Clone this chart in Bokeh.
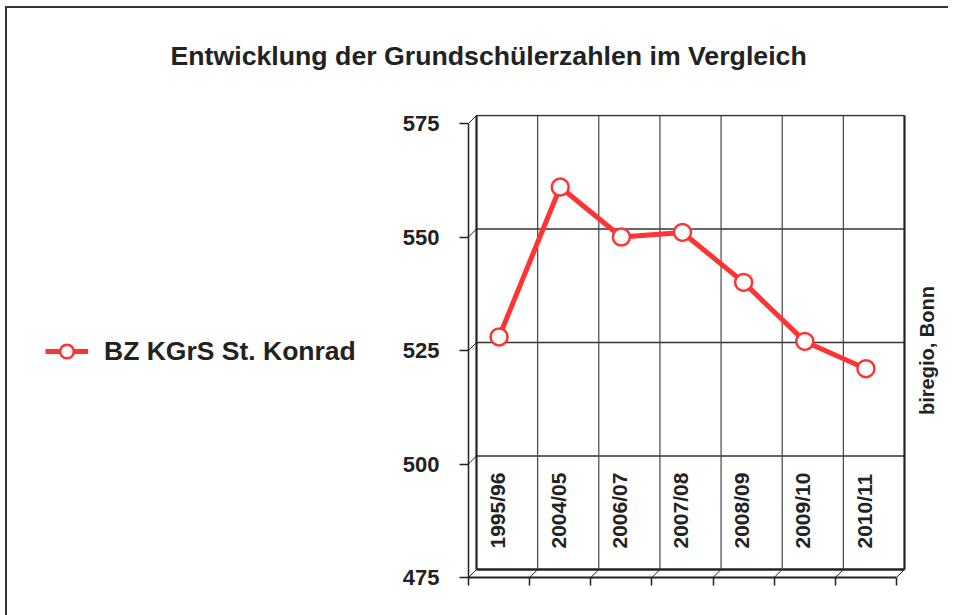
import math
from bokeh.plotting import figure
from bokeh.models import Range1d, FixedTicker, Legend, LegendItem
from bokeh.layouts import column, row
from bokeh.embed import file_html
from bokeh.resources import INLINE
from bokeh.core.properties import value

# ---------------- data ----------------
title_text = "Entwicklung der Grundschülerzahlen im Vergleich"
series_name = "BZ KGrS St. Konrad"
source_note = "biregio, Bonn"
categories = ["1995/96", "2004/05", "2006/07", "2007/08", "2008/09", "2009/10", "2010/11"]
pupils = [528, 561, 550, 551, 540, 527, 521]
y_ticks = [475, 500, 525, 550, 575]

# ---------------- layout constants ----------------
FONT = "Liberation Sans"
RED = "#FF3333"
DARK = "#222222"
BORDER = "2px solid #333333"
TPAD = 30               # space above the title
TH = 66                 # title strip height
GAP = TPAD + 2          # main plot offset below the title strip
LW = 393                # legend column width
LH = 543                # legend column height
PW = 550                # main plot width
RH = 503                # main plot height
FL, FT, FB = 70, 10, 30 # main plot borders
frame_w = PW - FL
frame_h = RH - FT - FB
n = len(categories)
ymin, ymax = y_ticks[0], y_ticks[-1]
DEPTH = 8               # px, pseudo-3D depth offset
cat_px = 428 / n        # px per category on the front plane
unit_px = 454 / (ymax - ymin)
dx = DEPTH / cat_px
dy = DEPTH / unit_px


def blank(fig):
    fig.outline_line_color = None
    fig.grid.visible = False
    fig.axis.visible = False
    fig.background_fill_color = "white"
    fig.border_fill_color = "white"


# ---------------- title strip ----------------
tf = figure(width=LW + PW, height=TH, x_range=Range1d(0, 1), y_range=Range1d(0, 1),
            output_backend="svg", toolbar_location=None,
            min_border_left=0, min_border_right=0, min_border_top=0, min_border_bottom=0)
blank(tf)
tf.styles = {"border-left": BORDER, "border-top": BORDER,
             "margin-left": "5px", "margin-top": "6px", "padding-top": f"{TPAD}px"}
tf.title.text = title_text
tf.title.align = "left"
tf.title.offset = 163
tf.title.text_font = FONT
tf.title.text_font_size = "26.7px"
tf.title.text_font_style = "bold"
tf.title.text_color = DARK
tf.title.standoff = 0

# ---------------- main plot ----------------
p = figure(width=PW, height=RH, title=None,
           x_range=Range1d(0, frame_w / cat_px),
           y_range=Range1d(ymin, ymin + frame_h / unit_px),
           output_backend="svg", toolbar_location=None,
           min_border_left=FL, min_border_right=0,
           min_border_top=FT, min_border_bottom=FB)
p.outline_line_color = None
p.grid.visible = False
p.background_fill_color = "white"
p.border_fill_color = "white"
p.styles = {"margin-top": f"{GAP}px"}

# y axis (front edge)
ya = p.yaxis[0]
ya.ticker = FixedTicker(ticks=y_ticks)
ya.bounds = (ymin, ymax)
ya.axis_line_color = DARK
ya.axis_line_width = 1.5
ya.major_tick_out = 9
ya.major_tick_in = 0
ya.minor_tick_out = 0
ya.minor_tick_in = 0
ya.major_tick_line_color = DARK
ya.major_tick_line_width = 1.5
ya.major_label_standoff = 20
ya.major_label_text_font = FONT
ya.major_label_text_font_size = "22px"
ya.major_label_text_font_style = "bold"
ya.major_label_text_color = DARK

# x axis (front floor edge with category ticks)
xa = p.xaxis[0]
xa.ticker = FixedTicker(ticks=list(range(n + 1)))
xa.bounds = (0, n)
xa.axis_line_color = DARK
xa.axis_line_width = 2
xa.major_tick_out = 8
xa.major_tick_in = 0
xa.minor_tick_out = 0
xa.minor_tick_in = 0
xa.major_tick_line_color = DARK
xa.major_tick_line_width = 1.5
xa.major_label_text_font_size = "0px"

# back wall: horizontal gridlines
grid_vals = y_ticks[1:]
p.segment(x0=[dx] * len(grid_vals), x1=[n + dx] * len(grid_vals),
          y0=[t + dy for t in grid_vals], y1=[t + dy for t in grid_vals],
          line_color="#333333", line_width=1.3)
# back floor edge
p.segment(x0=[dx], x1=[n + dx], y0=[ymin + dy], y1=[ymin + dy],
          line_color=DARK, line_width=2.5)
# back wall vertical lines
inner = list(range(1, n))
p.segment(x0=[k + dx for k in inner], x1=[k + dx for k in inner],
          y0=[ymin + dy] * len(inner), y1=[ymax + dy] * len(inner),
          line_color="#444444", line_width=1.2)
# back wall side edges
p.segment(x0=[dx, n + dx], x1=[dx, n + dx],
          y0=[ymin + dy] * 2, y1=[ymax + dy] * 2,
          line_color=DARK, line_width=2.2)
# depth diagonals at y ticks (left wall)
p.segment(x0=[0] * len(y_ticks), x1=[dx] * len(y_ticks),
          y0=y_ticks, y1=[t + dy for t in y_ticks],
          line_color=DARK, line_width=1)
# depth diagonals on floor
ks = list(range(n + 1))
p.segment(x0=ks, x1=[k + dx for k in ks],
          y0=[ymin] * len(ks), y1=[ymin + dy] * len(ks),
          line_color=DARK, line_width=1)

# category labels inside the wall
label_pad = 29 / unit_px
p.text(x=[i + 0.5 - 0.03 for i in range(n)], y=[ymin + label_pad] * n,
       text=categories, angle=math.pi / 2,
       text_align="left", text_baseline="middle",
       text_font=value(FONT), text_font_size="21px", text_font_style="bold",
       text_color=DARK)

# data series
xs = [i + 0.5 for i in range(n)]
line_r = p.line(xs, pupils, line_color=RED, line_width=5)
pts_r = p.scatter(xs, pupils, marker="circle", size=17, fill_color="white",
                  line_color=RED, line_width=2.5)

# source note, right of the wall
p.text(x=[n + dx + 22 / cat_px], y=[ymin + 50], text=[source_note],
       angle=math.pi / 2, text_align="center", text_baseline="middle",
       text_font=value(FONT), text_font_size="20px", text_font_style="bold",
       text_color=DARK)

# ---------------- legend column ----------------
# the series is repeated here (outside the visible range) only to feed the legend key
lf = figure(width=LW, height=LH, title=None, x_range=Range1d(0, 1), y_range=Range1d(0, 1),
            output_backend="svg", toolbar_location=None,
            min_border_left=0, min_border_right=0, min_border_top=0, min_border_bottom=0)
blank(lf)
lf.styles = {"border-left": BORDER, "margin-left": "5px"}
key_line = lf.line(xs, pupils, line_color=RED, line_width=5)
key_pts = lf.scatter(xs, pupils, marker="circle", size=15, fill_color="white",
                     line_color=RED, line_width=2.5)
legend = Legend(items=[LegendItem(label=series_name, renderers=[key_line, key_pts])],
                location=(38, 217), glyph_width=43, glyph_height=34,
                label_standoff=16, padding=0, margin=0,
                border_line_color=None, background_fill_alpha=0,
                label_text_font=FONT, label_text_font_size="26.5px",
                label_text_font_style="bold", label_text_color=DARK)
lf.add_layout(legend)

layout = column(tf, row(lf, p))
open("out.html", "w").write(file_html(layout, INLINE))
